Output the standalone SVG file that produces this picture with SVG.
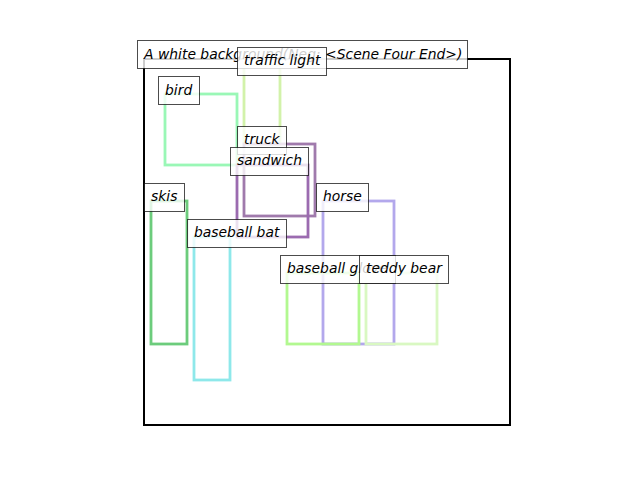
<svg xmlns="http://www.w3.org/2000/svg" width="640" height="480" viewBox="0 0 640 480">
<style>
.box{fill:none;stroke-width:2.8}
.lbl rect{fill:#ffffff;fill-opacity:0.8;stroke:#000000;stroke-opacity:0.7;stroke-width:1}
.lbl text{font-family:"DejaVu Sans","Liberation Sans",sans-serif;font-style:oblique;font-size:13.9px;fill:#000000}
</style>
<rect width="640" height="480" fill="#ffffff"/>
<g id="boxes">
<rect id="frame" x="144" y="59" width="366" height="366" fill="none" stroke="#000000" stroke-width="2"/>
<rect id="bird-box" class="box" x="165" y="94" width="72" height="71" stroke="#9af7b6"/>
<rect id="traffic-light-box" class="box" x="244" y="65" width="36" height="79" stroke="#d2f2aa"/>
<rect id="truck-box" class="box" x="244" y="144" width="71" height="72" stroke="#a07aac"/>
<rect id="sandwich-box" class="box" x="237" y="165" width="71" height="72" stroke="#9b6bb0"/>
<rect id="skis-box" class="box" x="151" y="201" width="36" height="143" stroke="#6ccc7c"/>
<rect id="horse-box" class="box" x="323" y="201" width="71" height="143" stroke="#b3a8ec"/>
<rect id="bat-box" class="box" x="194" y="237" width="36" height="143" stroke="#8ee8ea"/>
<rect id="glove-box" class="box" x="287" y="273" width="72" height="71" stroke="#b2f890"/>
<rect id="teddy-box" class="box" x="366" y="273" width="71" height="71" stroke="#d9f8c2"/>
</g>
<g id="connectors"></g>
<g id="title" class="lbl"><rect x="137.5" y="40.5" width="330" height="28"/><text x="144" y="58.6">A white background(Neg: &lt;Scene Four End&gt;)</text></g>
<g id="bird" class="lbl"><rect x="158.5" y="76.5" width="41" height="28"/><text x="165" y="95">bird</text></g>
<g id="traffic-light" class="lbl"><rect x="237.5" y="47.5" width="89" height="28"/><text x="244" y="65">traffic light</text></g>
<g id="truck" class="lbl"><rect x="237.5" y="126.5" width="49" height="28"/><text x="244" y="144">truck</text></g>
<g id="sandwich" class="lbl"><rect x="230.5" y="147.5" width="78" height="28"/><text x="237" y="165">sandwich</text></g>
<g id="skis" class="lbl"><rect x="144.5" y="183.5" width="40" height="28"/><text x="151" y="201">skis</text></g>
<g id="horse" class="lbl"><rect x="316.5" y="183.5" width="52" height="28"/><text x="323" y="201">horse</text></g>
<g id="baseball-bat" class="lbl"><rect x="187.5" y="219.5" width="99" height="28"/><text x="194" y="237">baseball bat</text></g>
<g id="baseball-glove" class="lbl"><rect x="280.5" y="255.5" width="115" height="28"/><text x="287" y="273">baseball glove</text></g>
<g id="teddy-bear" class="lbl"><rect x="359.5" y="255.5" width="89" height="28"/><text x="366" y="273">teddy bear</text></g>
</svg>
